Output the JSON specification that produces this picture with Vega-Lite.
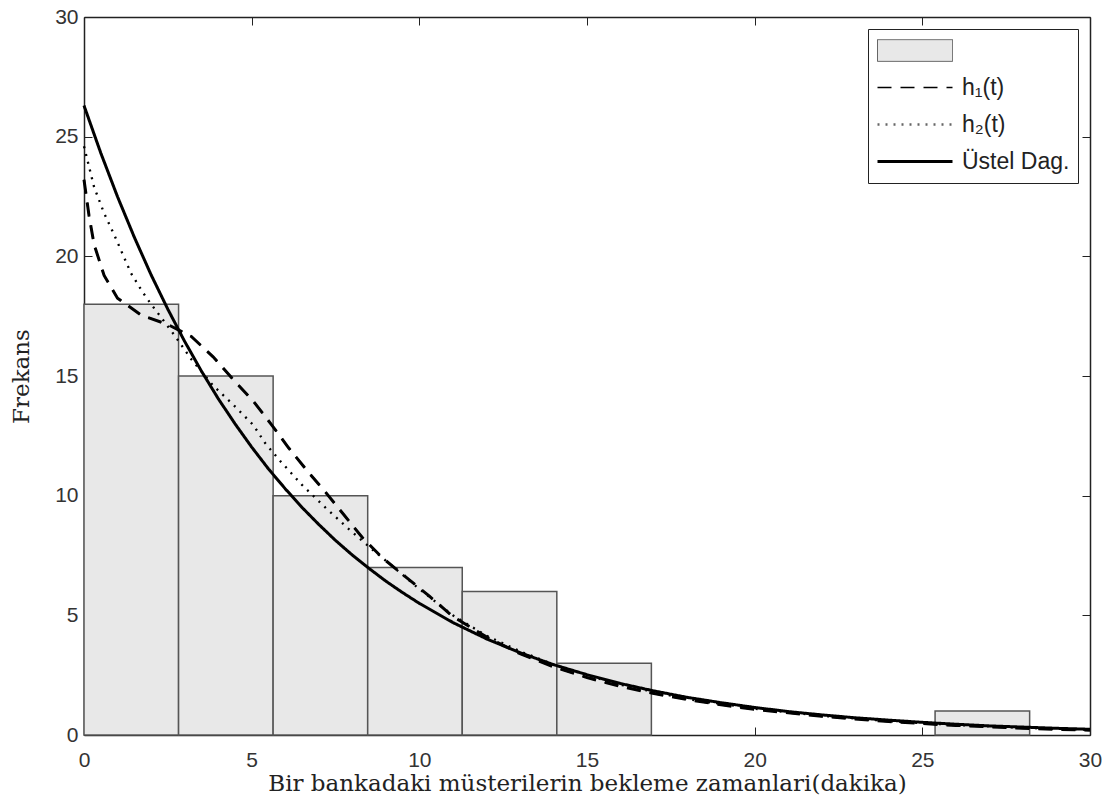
{
  "$schema": "https://vega.github.io/schema/vega-lite/v6.json",
  "width": 1006,
  "height": 718,
  "autosize": {"type": "none"},
  "padding": {"left": 84, "top": 17, "right": 25, "bottom": 69},
  "background": "white",
  "config": {
    "view": {"stroke": null},
    "axis": {
      "grid": false,
      "domainColor": "#222",
      "domainWidth": 1.5,
      "tickColor": "#222",
      "tickWidth": 1,
      "tickSize": -8,
      "labelFlush": false,
      "labelFont": "Liberation Sans",
      "labelFontSize": 21,
      "labelColor": "#333",
      "titleFont": "DejaVu Serif",
      "titleFontSize": 23,
      "titleFontWeight": "normal",
      "titleColor": "#222"
    }
  },
  "datasets": {
    "bins": [
      {"start": 0, "end": 2.82, "count": 18},
      {"start": 2.82, "end": 5.64, "count": 15},
      {"start": 5.64, "end": 8.46, "count": 10},
      {"start": 8.46, "end": 11.28, "count": 7},
      {"start": 11.28, "end": 14.1, "count": 6},
      {"start": 14.1, "end": 16.92, "count": 3},
      {"start": 25.38, "end": 28.2, "count": 1}
    ],
    "curves": [
      {"series": "h₁(t)", "t": 0, "f": 23.2},
      {"series": "h₁(t)", "t": 0.15, "f": 21.7},
      {"series": "h₁(t)", "t": 0.3, "f": 20.5},
      {"series": "h₁(t)", "t": 0.6, "f": 19.2},
      {"series": "h₁(t)", "t": 1.0, "f": 18.25},
      {"series": "h₁(t)", "t": 1.7, "f": 17.55},
      {"series": "h₁(t)", "t": 2.5, "f": 17.15},
      {"series": "h₁(t)", "t": 3.2, "f": 16.65},
      {"series": "h₁(t)", "t": 3.85, "f": 15.8},
      {"series": "h₁(t)", "t": 4.45, "f": 14.85},
      {"series": "h₁(t)", "t": 5.05, "f": 13.95},
      {"series": "h₁(t)", "t": 5.6, "f": 12.95},
      {"series": "h₁(t)", "t": 6.1, "f": 12.0},
      {"series": "h₁(t)", "t": 6.65, "f": 11.05},
      {"series": "h₁(t)", "t": 7.2, "f": 10.15},
      {"series": "h₁(t)", "t": 7.75, "f": 9.2},
      {"series": "h₁(t)", "t": 8.3, "f": 8.25},
      {"series": "h₁(t)", "t": 8.9, "f": 7.4},
      {"series": "h₁(t)", "t": 9.6, "f": 6.6},
      {"series": "h₁(t)", "t": 10.3, "f": 5.8},
      {"series": "h₁(t)", "t": 11, "f": 4.95},
      {"series": "h₁(t)", "t": 12, "f": 4.1},
      {"series": "h₁(t)", "t": 13, "f": 3.4},
      {"series": "h₁(t)", "t": 14, "f": 2.85},
      {"series": "h₁(t)", "t": 15, "f": 2.4},
      {"series": "h₁(t)", "t": 16, "f": 2.03},
      {"series": "h₁(t)", "t": 17, "f": 1.73},
      {"series": "h₁(t)", "t": 18, "f": 1.48},
      {"series": "h₁(t)", "t": 19, "f": 1.26},
      {"series": "h₁(t)", "t": 20, "f": 1.07},
      {"series": "h₁(t)", "t": 22, "f": 0.78},
      {"series": "h₁(t)", "t": 24, "f": 0.56},
      {"series": "h₁(t)", "t": 26, "f": 0.4},
      {"series": "h₁(t)", "t": 28, "f": 0.28},
      {"series": "h₁(t)", "t": 30, "f": 0.2},
      {"series": "h₂(t)", "t": 0, "f": 24.6},
      {"series": "h₂(t)", "t": 0.3, "f": 22.9},
      {"series": "h₂(t)", "t": 0.6, "f": 21.8},
      {"series": "h₂(t)", "t": 0.9, "f": 20.9},
      {"series": "h₂(t)", "t": 1.15, "f": 20.1},
      {"series": "h₂(t)", "t": 1.4, "f": 19.3},
      {"series": "h₂(t)", "t": 1.75, "f": 18.5},
      {"series": "h₂(t)", "t": 2.0, "f": 18.0},
      {"series": "h₂(t)", "t": 2.3, "f": 17.45},
      {"series": "h₂(t)", "t": 2.7, "f": 16.7},
      {"series": "h₂(t)", "t": 3.2, "f": 15.7},
      {"series": "h₂(t)", "t": 3.85, "f": 14.6},
      {"series": "h₂(t)", "t": 4.45, "f": 13.8},
      {"series": "h₂(t)", "t": 5.05, "f": 12.95},
      {"series": "h₂(t)", "t": 5.4, "f": 12.2},
      {"series": "h₂(t)", "t": 5.85, "f": 11.45},
      {"series": "h₂(t)", "t": 6.5, "f": 10.45},
      {"series": "h₂(t)", "t": 7.2, "f": 9.5},
      {"series": "h₂(t)", "t": 7.9, "f": 8.6},
      {"series": "h₂(t)", "t": 8.6, "f": 7.75},
      {"series": "h₂(t)", "t": 9.2, "f": 7.05},
      {"series": "h₂(t)", "t": 10, "f": 6.1},
      {"series": "h₂(t)", "t": 11, "f": 5.0},
      {"series": "h₂(t)", "t": 12, "f": 4.15},
      {"series": "h₂(t)", "t": 13, "f": 3.5},
      {"series": "h₂(t)", "t": 14, "f": 2.95},
      {"series": "h₂(t)", "t": 15, "f": 2.5},
      {"series": "h₂(t)", "t": 16, "f": 2.1},
      {"series": "h₂(t)", "t": 18, "f": 1.5},
      {"series": "h₂(t)", "t": 20, "f": 1.1},
      {"series": "h₂(t)", "t": 22, "f": 0.8},
      {"series": "h₂(t)", "t": 24, "f": 0.58},
      {"series": "h₂(t)", "t": 26, "f": 0.42},
      {"series": "h₂(t)", "t": 28, "f": 0.3},
      {"series": "h₂(t)", "t": 30, "f": 0.22},
      {"series": "Üstel Dag.", "t": 0, "f": 26.3},
      {"series": "Üstel Dag.", "t": 0.5, "f": 24.32},
      {"series": "Üstel Dag.", "t": 1, "f": 22.49},
      {"series": "Üstel Dag.", "t": 1.5, "f": 20.8},
      {"series": "Üstel Dag.", "t": 2, "f": 19.23},
      {"series": "Üstel Dag.", "t": 2.5, "f": 17.79},
      {"series": "Üstel Dag.", "t": 3, "f": 16.45},
      {"series": "Üstel Dag.", "t": 3.5, "f": 15.21},
      {"series": "Üstel Dag.", "t": 4, "f": 14.06},
      {"series": "Üstel Dag.", "t": 4.5, "f": 13.01},
      {"series": "Üstel Dag.", "t": 5, "f": 12.03},
      {"series": "Üstel Dag.", "t": 5.5, "f": 11.12},
      {"series": "Üstel Dag.", "t": 6, "f": 10.29},
      {"series": "Üstel Dag.", "t": 6.5, "f": 9.51},
      {"series": "Üstel Dag.", "t": 7, "f": 8.8},
      {"series": "Üstel Dag.", "t": 7.5, "f": 8.13},
      {"series": "Üstel Dag.", "t": 8, "f": 7.52},
      {"series": "Üstel Dag.", "t": 8.5, "f": 6.96},
      {"series": "Üstel Dag.", "t": 9, "f": 6.43},
      {"series": "Üstel Dag.", "t": 9.5, "f": 5.95},
      {"series": "Üstel Dag.", "t": 10, "f": 5.5},
      {"series": "Üstel Dag.", "t": 11, "f": 4.7},
      {"series": "Üstel Dag.", "t": 12, "f": 4.02},
      {"series": "Üstel Dag.", "t": 13, "f": 3.44},
      {"series": "Üstel Dag.", "t": 14, "f": 2.94},
      {"series": "Üstel Dag.", "t": 15, "f": 2.52},
      {"series": "Üstel Dag.", "t": 16, "f": 2.15},
      {"series": "Üstel Dag.", "t": 17, "f": 1.84},
      {"series": "Üstel Dag.", "t": 18, "f": 1.57},
      {"series": "Üstel Dag.", "t": 19, "f": 1.35},
      {"series": "Üstel Dag.", "t": 20, "f": 1.15},
      {"series": "Üstel Dag.", "t": 21, "f": 0.98},
      {"series": "Üstel Dag.", "t": 22, "f": 0.84},
      {"series": "Üstel Dag.", "t": 23, "f": 0.72},
      {"series": "Üstel Dag.", "t": 24, "f": 0.62},
      {"series": "Üstel Dag.", "t": 25, "f": 0.53},
      {"series": "Üstel Dag.", "t": 26, "f": 0.45},
      {"series": "Üstel Dag.", "t": 27, "f": 0.38},
      {"series": "Üstel Dag.", "t": 28, "f": 0.33},
      {"series": "Üstel Dag.", "t": 29, "f": 0.28},
      {"series": "Üstel Dag.", "t": 30, "f": 0.24}
    ]
  },
  "layer": [
    {
      "data": {"name": "bins"},
      "mark": {"type": "rect", "fill": "#e8e8e8", "stroke": "#555", "strokeWidth": 1.5},
      "encoding": {
        "x": {
          "field": "start", "type": "quantitative",
          "scale": {"domain": [0, 30], "nice": false},
          "axis": {"orient": "bottom", "values": [0, 5, 10, 15, 20, 25, 30], "title": "Bir bankadaki müsterilerin bekleme zamanlari(dakika)", "labelPadding": 22, "titlePadding": 2}
        },
        "x2": {"field": "end"},
        "y": {
          "field": "count", "type": "quantitative",
          "scale": {"domain": [0, 30], "nice": false},
          "axis": {"orient": "left", "values": [0, 5, 10, 15, 20, 25, 30], "title": "Frekans", "labelPadding": 14, "titlePadding": 21}
        },
        "y2": {"datum": 0}
      }
    },
    {
      "data": {"name": "curves"},
      "mark": {"type": "line", "stroke": "black", "strokeCap": "butt"},
      "encoding": {
        "x": {
          "field": "t", "type": "quantitative",
          "scale": {"domain": [0, 30], "nice": false},
          "axis": {"orient": "top", "values": [0, 5, 10, 15, 20, 25, 30], "labels": false, "title": null}
        },
        "y": {
          "field": "f", "type": "quantitative",
          "scale": {"domain": [0, 30], "nice": false},
          "axis": {"orient": "right", "values": [0, 5, 10, 15, 20, 25, 30], "labels": false, "title": null}
        },
        "strokeDash": {
          "field": "series", "type": "nominal",
          "scale": {"domain": ["bar", "h₁(t)", "h₂(t)", "Üstel Dag."], "range": [[1, 0], [14, 9], [2, 6], [1, 0]]},
          "legend": {
            "title": null,
            "orient": "top-right",
            "offset": 12,
            "strokeColor": "#222",
            "fillColor": "white",
            "padding": 8,
            "symbolSize": 5625,
            "symbolStrokeColor": "black",
            "symbolStrokeWidth": 3,
            "clipHeight": 27,
            "rowPadding": 10,
            "labelOffset": 8,
            "labelFont": "Liberation Sans",
            "labelFontSize": 23,
            "labelColor": "#222",
            "labelExpr": "datum.value === 'bar' ? '' : datum.value",
            "encode": {
              "symbols": {
                "update": {
                  "shape": {"signal": "datum.value === 'bar' ? 'M-1,-0.29H1V0.29H-1Z' : 'stroke'"},
                  "fill": {"signal": "datum.value === 'bar' ? '#e8e8e8' : 'transparent'"},
                  "stroke": {"signal": "datum.value === 'bar' ? '#555' : (datum.value === 'h₂(t)' ? '#666' : 'black')"},
                  "strokeWidth": {"signal": "datum.value === 'bar' ? 1.5 : (datum.value === 'h₂(t)' ? 2 : 3)"}
                }
              }
            }
          }
        },
        "strokeWidth": {
          "field": "series", "type": "nominal",
          "scale": {"domain": ["bar", "h₁(t)", "h₂(t)", "Üstel Dag."], "range": [1, 3, 2.2, 2.8]},
          "legend": null
        },
        "order": {"field": "t", "type": "quantitative"}
      }
    },
    {
      "data": {"name": "curves"},
      "transform": [{"filter": "datum.series === 'h₁(t)'"}],
      "mark": {"type": "line", "stroke": "black", "strokeCap": "butt", "strokeWidth": 3, "strokeDash": [14, 9]},
      "encoding": {
        "x": {"field": "t", "type": "quantitative", "scale": {"domain": [0, 30], "nice": false}, "axis": null},
        "y": {"field": "f", "type": "quantitative", "scale": {"domain": [0, 30], "nice": false}, "axis": null},
        "order": {"field": "t", "type": "quantitative"}
      }
    }
  ],
  "resolve": {"axis": {"x": "independent", "y": "independent"}}
}
